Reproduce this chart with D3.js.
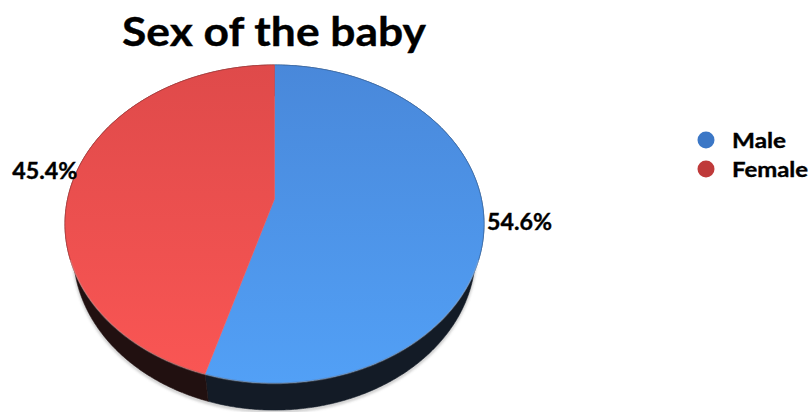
<!DOCTYPE html>
<html>
<head>
<meta charset="utf-8">
<script src="https://cdn.jsdelivr.net/npm/d3@7/dist/d3.min.js"></script>
<style>
  html, body { margin: 0; padding: 0; background: #fff; }
  svg { display: block; }
  text { font-family: Lato, "Open Sans", "DejaVu Sans", sans-serif; font-weight: bold; fill: #000;
         stroke: #000; stroke-width: 0.35; }
</style>
</head>
<body>
<svg id="chart" width="812" height="412"></svg>
<script>
// Sex of the baby: share of births by sex (percent)
const categories = ["Male", "Female"];
const shares = [54.6, 45.4];

// Slice styling
const topDark  = ["#4988da", "#df4a4a"];
const topLight = ["#52a0f6", "#fa5654"];
const sideCol  = ["#131b26", "#211010"];
const legendCol = ["#3b77c6", "#bf3a3a"];

const svg = d3.select("#chart");

// Perspective view of a flat disk (radius 1) with thickness
const cam = {
  cx: 274.5, cy: 199,     // screen position of the disk centre
  f: 871,                 // focal scale
  k: 4.21,                // camera distance (in radii)
  tilt: Math.acos(0.662), // elevation angle
  depth: 0.23             // disk thickness (in radii)
};
const cs = Math.cos(cam.tilt), sn = Math.sin(cam.tilt);

// angle: clockwise from the far side of the disk; r: radial fraction; h: drop below top
function project(angle, r, h) {
  const u = r * Math.sin(angle), v = r * Math.cos(angle);
  const yc = v * sn - h * cs;
  const zc = cam.k + v * cs + h * sn;
  return [cam.cx + cam.f * u / zc, cam.cy - cam.f * yc / zc];
}

function rimPoints(a0, a1, h) {
  const n = Math.max(2, Math.ceil(Math.abs(a1 - a0) / (Math.PI / 360)));
  return d3.range(n + 1).map(i => project(a0 + (a1 - a0) * i / n, 1, h));
}

const pie = d3.pie().sort(null).startAngle(0).endAngle(2 * Math.PI);
const arcs = pie(shares);
const line = d3.line();

const defs = svg.append("defs");
arcs.forEach((d, i) => {
  const g = defs.append("linearGradient")
    .attr("id", "top" + i).attr("gradientUnits", "userSpaceOnUse")
    .attr("x1", 0).attr("y1", 65).attr("x2", 0).attr("y2", 383);
  g.append("stop").attr("offset", 0).attr("stop-color", topDark[i]);
  g.append("stop").attr("offset", 1).attr("stop-color", topLight[i]);
});
defs.append("filter").attr("id", "soft").attr("x", "-5%").attr("y", "-5%")
  .attr("width", "110%").attr("height", "120%")
  .append("feGaussianBlur").attr("stdDeviation", 1.6);

// Soft shadow along the bottom edge of the disk
svg.append("path")
  .attr("d", line(rimPoints(Math.PI / 2, 3 * Math.PI / 2, cam.depth + 0.012)))
  .attr("fill", "none").attr("stroke", "#9a9a9a").attr("stroke-width", 2)
  .attr("filter", "url(#soft)").attr("opacity", 0.8);

// Side walls
svg.append("g").selectAll("path").data(arcs).join("path")
  .attr("d", d => {
    const top = rimPoints(d.startAngle, d.endAngle, 0);
    const bot = rimPoints(d.startAngle, d.endAngle, cam.depth).reverse();
    return line(top.concat(bot)) + "Z";
  })
  .attr("fill", (d, i) => sideCol[i])
  .attr("stroke", (d, i) => sideCol[i]).attr("stroke-width", 0.6);

// Top faces
const centre = project(0, 0, 0);
svg.append("g").selectAll("path").data(arcs).join("path")
  .attr("d", d => line([centre].concat(rimPoints(d.startAngle, d.endAngle, 0))) + "Z")
  .attr("fill", (d, i) => `url(#top${i})`)
  .attr("stroke", (d, i) => `url(#top${i})`).attr("stroke-width", 0.5);

// Darker edge on the outer rim of each slice
svg.append("g").selectAll("path").data(arcs).join("path")
  .attr("d", d => line(rimPoints(d.startAngle, d.endAngle, 0)))
  .attr("fill", "none")
  .attr("stroke", (d, i) => d3.color(topDark[i]).darker(0.7))
  .attr("stroke-width", 1).attr("stroke-opacity", 0.6);

// Light bevel along the front rim
svg.append("path")
  .attr("d", line(rimPoints(Math.PI * 0.62, Math.PI * 1.38, 0.004)))
  .attr("fill", "none").attr("stroke", "#ffffff").attr("stroke-opacity", 0.22)
  .attr("stroke-width", 1.5);

// Percentage labels outside the rim
const fmt = d3.format(".1f");
svg.append("g").selectAll("text").data(arcs).join("text")
  .each(function (d) {
    const mid = (d.startAngle + d.endAngle) / 2;
    const [x, y] = project(mid, 1, 0);
    const right = Math.sin(mid) > 0;
    d3.select(this)
      .attr("x", x + 3)
      .attr("y", y - 4 + 0.14 * (y - cam.cy))
      .attr("text-anchor", right ? "start" : "end")
      .attr("dominant-baseline", "central");
  })
  .attr("font-size", 22)
  .attr("textLength", 65).attr("lengthAdjust", "spacingAndGlyphs")
  .text(d => fmt(d.data) + "%");

// Title
svg.append("text")
  .attr("x", 274).attr("y", 46)
  .attr("text-anchor", "middle")
  .attr("font-size", 40)
  .attr("textLength", 304).attr("lengthAdjust", "spacingAndGlyphs")
  .text("Sex of the baby");

// Legend
const legendWidths = [54, 76];
const legend = svg.append("g").selectAll("g").data(categories).join("g")
  .attr("transform", (d, i) => `translate(706,${140 + i * 29})`);
legend.append("circle").attr("r", 8.5).attr("fill", (d, i) => legendCol[i])
  .style("stroke", "none");
legend.append("text").attr("x", 26).attr("y", 8)
  .attr("font-size", 20)
  .attr("textLength", (d, i) => legendWidths[i]).attr("lengthAdjust", "spacingAndGlyphs")
  .text(d => d);
</script>
</body>
</html>
